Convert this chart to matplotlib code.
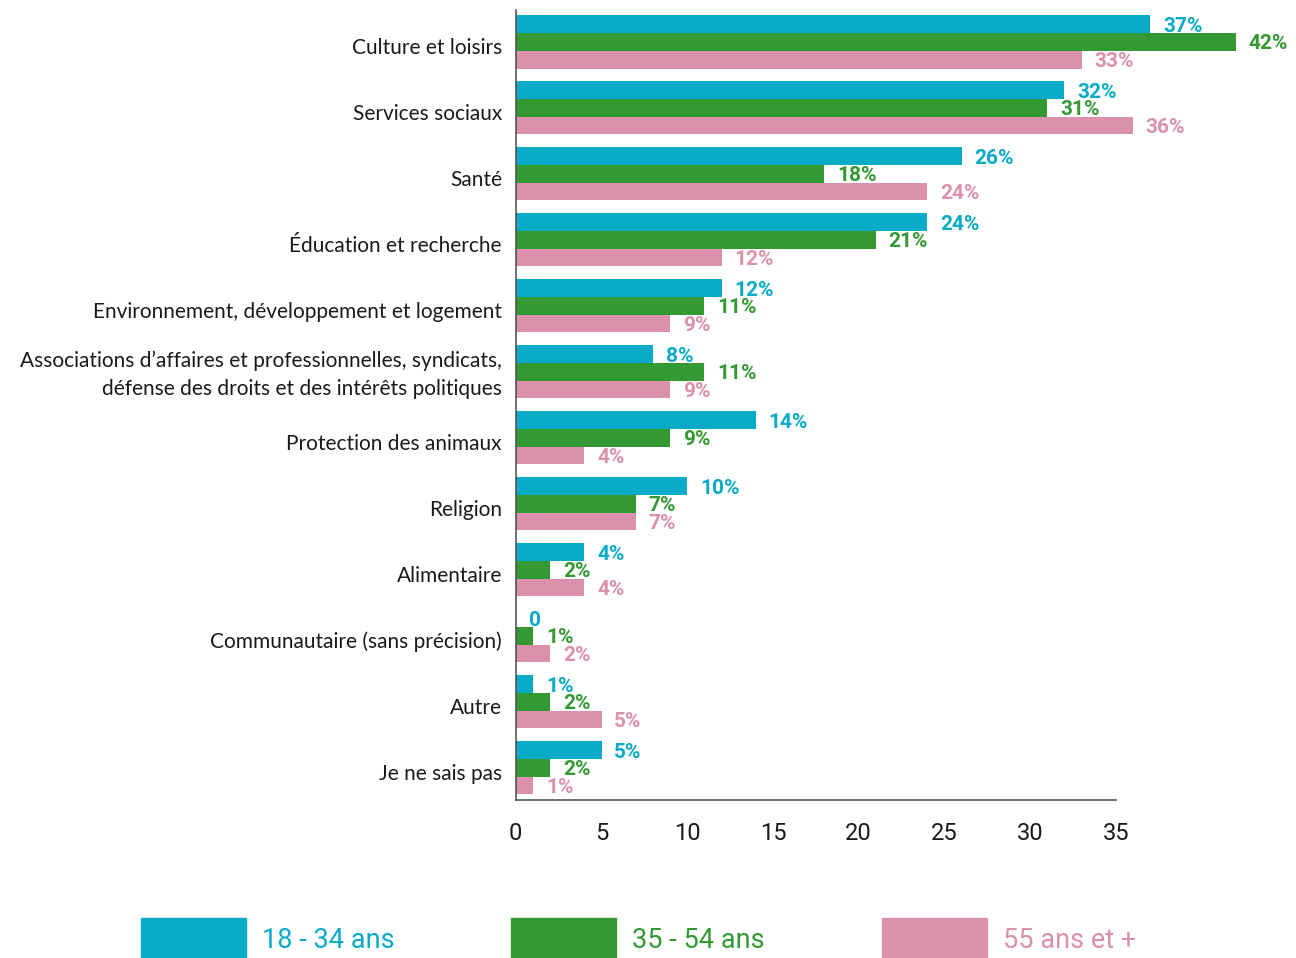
import matplotlib.pyplot as plt
from matplotlib.patches import Rectangle
import numpy as np

categories = [
    "Culture et loisirs",
    "Services sociaux",
    "Santé",
    "Éducation et recherche",
    "Environnement, développement et logement",
    "Associations d’affaires et professionnelles, syndicats,\ndéfense des droits et des intérêts politiques",
    "Protection des animaux",
    "Religion",
    "Alimentaire",
    "Communautaire (sans précision)",
    "Autre",
    "Je ne sais pas",
]
age_18_34 = [37, 32, 26, 24, 12, 8, 14, 10, 4, 0, 1, 5]
age_35_54 = [42, 31, 18, 21, 11, 11, 9, 7, 2, 1, 2, 2]
age_55_plus = [33, 36, 24, 12, 9, 9, 4, 7, 4, 2, 5, 1]
series_names = ["18 - 34 ans", "35 - 54 ans", "55 ans et +"]
colors = ["#07ABC8", "#339933", "#DB90AB"]
xticks = [0, 5, 10, 15, 20, 25, 30, 35]

label_font = ["Lato", "DejaVu Sans"]
num_font = ["Liberation Sans Narrow", "Roboto", "DejaVu Sans"]


def main():
    fig = plt.figure(figsize=(12.96, 9.58), dpi=100)
    ax = fig.add_axes([0.398, 0.165, 0.463, 0.8246])

    y = np.arange(len(categories))
    h = 0.268
    for i, (vals, col) in enumerate(zip([age_18_34, age_35_54, age_55_plus], colors)):
        pos = y + (i - 1) * h
        ax.barh(pos, vals, height=h, color=col, clip_on=False)
        for p, v in zip(pos, vals):
            txt = "0" if v == 0 else f"{v}%"
            ax.text(v + 0.75, p + 0.03, txt, color=col, fontsize=15,
                    fontweight="bold", va="center", ha="left",
                    family=["Roboto", "DejaVu Sans"], clip_on=False)

    ax.set_xlim(0, 35)
    ax.set_ylim(len(categories) - 0.515, -0.485)
    # single-line labels sit a little below the group centre, the two-line one a little above
    nudge = [-0.05 if "\n" in c else 0.06 for c in categories]
    ax.set_yticks(y + np.array(nudge))
    ax.set_yticklabels(categories, fontsize=15, family=label_font,
                       color="#1a1a1a", linespacing=1.5)
    ax.set_xticks(xticks)
    ax.set_xticklabels([str(t) for t in xticks], fontsize=17,
                       family=num_font, color="#1a1a1a")
    ax.tick_params(axis="both", length=0)
    ax.tick_params(axis="y", pad=10)
    ax.tick_params(axis="x", pad=16)
    for s in ["top", "right"]:
        ax.spines[s].set_visible(False)
    for s in ["left", "bottom"]:
        ax.spines[s].set_color("#555555")
        ax.spines[s].set_linewidth(1.2)

    # legend along the bottom
    W, H = 1296, 958
    legend_x = [141, 511, 882]
    for lx, name, col in zip(legend_x, series_names, colors):
        fig.patches.append(Rectangle((lx / W, 0), 105 / W, 40 / H,
                                     transform=fig.transFigure, color=col))
        fig.text((lx + 121) / W, 1 - 940 / H, name, color=col, fontsize=19.5,
                 va="center", ha="left", family=["Roboto", "DejaVu Sans"])

    fig.savefig("out.png", dpi=100)


if __name__ == "__main__":
    main()
